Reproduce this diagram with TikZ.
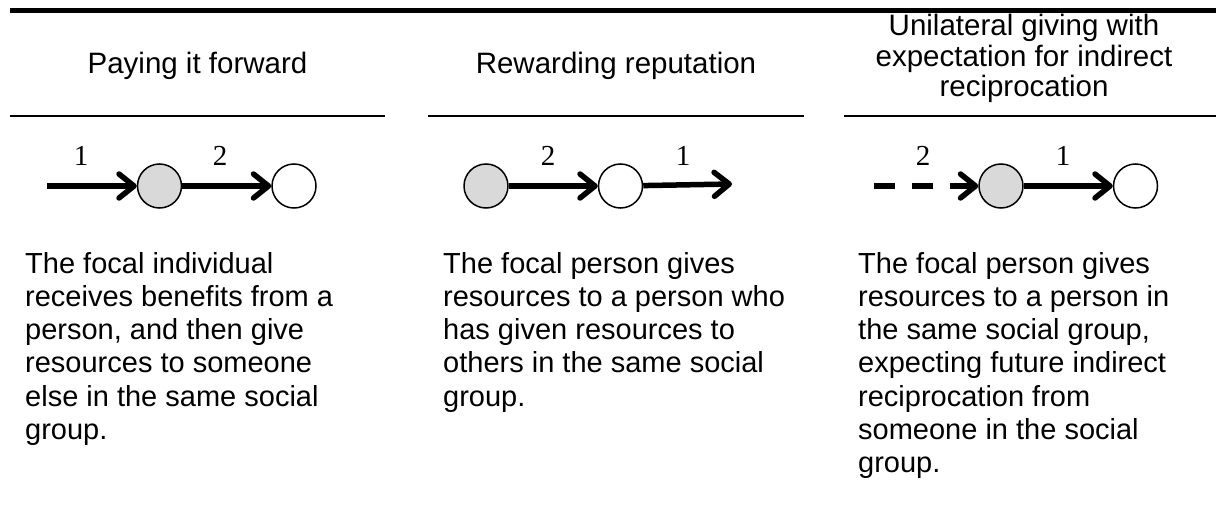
\documentclass[tikz,border=0pt]{standalone}
\usepackage{fontspec}
\setmainfont{Liberation Sans}
\newfontfamily\numfont{Liberation Serif}
\definecolor{FocalGray}{RGB}{217, 217, 217}
\newcommand{\headfont}{\fontsize{29.5}{27.5}\selectfont\lineskiplimit=-20pt\relax}
\usetikzlibrary{arrows.meta, positioning}

\begin{document}
\begin{tikzpicture}[
    x=1pt, y=-1pt,
    node distance=89pt,
    person/.style={draw, circle, line width=1.5pt, fill=white,
                   minimum size=44pt, inner sep=0pt},
    focal/.style={person, fill=FocalGray},
    link/.style={line width=5.5pt,
                 -{Straight Barb[length=15pt, width=24pt, line cap=round, line join=round]}},
    stepno/.style={anchor=base, inner sep=0pt, font=\numfont\fontsize{29}{29}\selectfont},
    head/.style={anchor=base, align=center, inner sep=0pt, font=\headfont},
    body/.style={anchor=base west, align=left, inner sep=0pt,
                 font=\fontsize{29}{33.3}\selectfont}
]
\useasboundingbox (0,0) rectangle (1216,516);

% rules
\draw[line width=5pt] (10,11) -- (1216,11);
\draw[line width=2pt] (10,116) -- (385,116);
\draw[line width=2pt] (428,116) -- (804,116);
\draw[line width=2pt] (844,116) -- (1216,116);

% headings (base = last line)
\node[head] (h1) at (197.5,74) {Paying it forward};
\node[head] (h2) at (616,74) {Rewarding reputation};
\node[head] (h3) at (1024,97) {Unilateral giving with\\[3pt]expectation for indirect\\[3pt]reciprocation};

% paying it forward
\coordinate (s1) at (47,186);
\node[focal] (g1) at (159.5,186) {};
\node[person, right=of g1] (w1) {};
\draw[link] (s1) -- (g1);
\draw[link] (g1) -- (w1);
\node[stepno] (n1a) at (81,165) {1};
\node[stepno] (n1b) at (220,165) {2};

% rewarding reputation
\node[focal] (g2) at (486,186) {};
\node[person, right=of g2] (w2) {};
\coordinate (e2) at (732,184);
\draw[link] (g2) -- (w2);
\draw[link] (w2) -- (e2);
\node[stepno] (n2a) at (548,165) {2};
\node[stepno] (n2b) at (683,165) {1};

% unilateral giving
\coordinate (s3) at (874,186);
\node[focal] (g3) at (1001,186) {};
\node[person, right=of g3] (w3) {};
\draw[link, dash pattern=on 21pt off 17pt] (s3) -- (g3);
\draw[link] (g3) -- (w3);
\node[stepno] (n3a) at (923,165) {2};
\node[stepno] (n3b) at (1063,165) {1};

% descriptions (base = last line)
\node[body] (d1) at (25,439.5) {The focal individual\\receives benefits from a\\person, and then give\\resources to someone\\else in the same social\\group.};
\node[body] (d2) at (443,406.2) {The focal person gives\\resources to a person who\\has given resources to\\others in the same social\\group.};
\node[body] (d3) at (858,472.8) {The focal person gives\\resources to a person in\\the same social group,\\expecting future indirect\\reciprocation from\\someone in the social\\group.};
\end{tikzpicture}
\end{document}
